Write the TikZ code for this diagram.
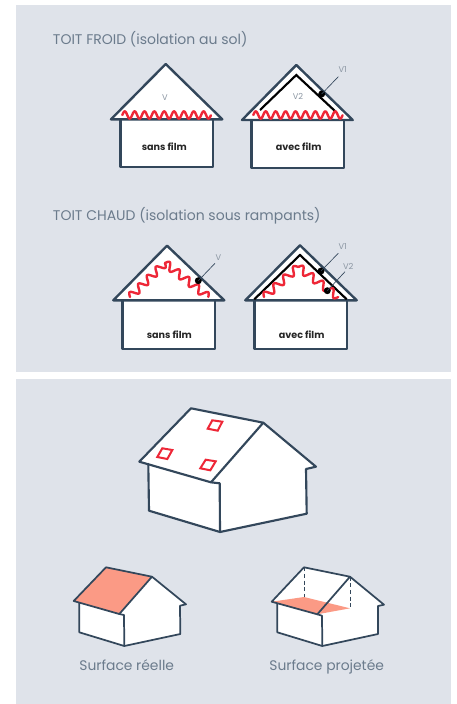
\documentclass[tikz,border=0pt]{standalone}
\usepackage{fontspec}
\setmainfont{Poppins}
\usetikzlibrary{calc}
\definecolor{panelgrey}{HTML}{DFE3EA}
\definecolor{slate}{HTML}{33475B}
\definecolor{wavered}{HTML}{EE2737}
\definecolor{roofpeach}{HTML}{FB9A85}
\definecolor{titlegrey}{HTML}{6B7B8C}
\definecolor{labelgrey}{HTML}{8C97A3}
% wave from (x0,y0) to (x1,y1): #5 periods
\newcommand{\redwave}[5]{%
    \draw[wave] plot[domain=0:1, samples=120, smooth]
        ({#1+(#3-#1)*\x + 3.7*(#4-#2)/veclen(#3-#1,#4-#2)*sin(#5*360*\x)},
         {#2+(#4-#2)*\x - 3.7*(#3-#1)/veclen(#3-#1,#4-#2)*sin(#5*360*\x)});}

\begin{document}
\begin{tikzpicture}[
    x=0.75pt, y=-0.75pt,
    panel/.style={fill=panelgrey, draw=none},
    wall/.style={draw=slate, fill=white, line width=1.8pt, line join=round, line cap=round},
    thinwall/.style={draw=slate, line width=1.3pt, line join=round, line cap=round},
    film/.style={draw=black, line width=1.6pt, line join=miter},
    wave/.style={draw=wavered, line width=1.8pt, line join=round, line cap=round},
    skylight/.style={draw=wavered, line width=1.5pt},
    leader/.style={draw=slate, line width=0.5pt},
    blackdot/.style={circle, fill=black, inner sep=0pt, minimum size=5.2pt},
    heading/.style={font=\fontsize{10.5}{12}\selectfont, text=titlegrey, anchor=base west, inner sep=0pt},
    caption/.style={font=\fontsize{10.4}{12}\selectfont, text=titlegrey, anchor=base, inner sep=0pt},
    vlabel/.style={font=\fontsize{6.2}{7}\selectfont, text=labelgrey, inner sep=0pt},
    filmlabel/.style={font=\fontsize{7.2}{8}\selectfont\bfseries, text=black!85, anchor=base, inner sep=0pt},
]
    \useasboundingbox (0,0) rectangle (457,704);

    %==================== PANELS ====================
    \fill[panel] (16,5) rectangle (451,372);
    \fill[panel] (16,379) rectangle (451,704);

    %==================== TOIT FROID ====================
    \node[heading] (froid) at (52.7,44.3) {TOIT FROID (isolation au sol)};

    % sans film
    \draw[wall] (120.3,119.3) -- (120.3,167) -- (212.7,167) -- (212.7,119.3);
    \draw[wall] (111,119.3) -- (165.7,64) -- (222.3,119.3) -- cycle;
    \redwave{122.3}{115}{211}{115}{9}
    \node[vlabel] (v1a) at (165,97.3) {V};
    \node[filmlabel] (sans1) at (164.3,150.3) {sans film};

    % avec film
    \draw[wall] (251.3,120) -- (251.3,168) -- (343.7,168) -- (343.7,120);
    \draw[wall] (242,120) -- (296.3,65) -- (352.7,120) -- cycle;
    \draw[film] (260,110) -- (296.3,75) -- (335.7,111.7);
    \redwave{253.3}{115}{342.7}{115}{9}
    \node[vlabel] (v2a) at (298,96.7) {V2};
    \node[vlabel] (v1b) at (342.7,69.7) {V1};
    \node[blackdot] (dot1) at (321.7,94) {};
    \draw[leader] (dot1.center) -- (338.3,76.7);
    \node[filmlabel] (avec1) at (298.7,150.3) {avec film};

    %==================== TOIT CHAUD ====================
    \node[heading] (chaud) at (52.7,220) {TOIT CHAUD (isolation sous rampants)};

    % sans film
    \draw[wall] (122.3,300.3) -- (122.3,348.7) -- (214.7,348.7) -- (214.7,300.3);
    \draw[wall] (113.3,300.3) -- (167,245.7) -- (224.3,300.3) -- cycle;
    \redwave{130}{297}{165}{263}{4}
    \redwave{165}{263}{208.3}{297}{4.5}
    \node[blackdot] (dot2) at (198.3,280.7) {};
    \draw[leader] (dot2.center) -- (215,263.3);
    \node[vlabel] (v1c) at (218.3,257.3) {V};
    \node[filmlabel] (sans2) at (169.3,338.3) {sans film};

    % avec film
    \draw[wall] (254.3,300.3) -- (254.3,348.7) -- (346.7,348.7) -- (346.7,300.3);
    \draw[wall] (245.3,300.3) -- (300,245.3) -- (356.7,300.3) -- cycle;
    \draw[film] (254.3,299.3) -- (300,255) -- (346.7,299.3);
    \redwave{264}{297}{298.3}{267}{3.5}
    \redwave{298.3}{267}{338.3}{297}{4}
    \node[blackdot] (dot3) at (321,271) {};
    \node[blackdot] (dot4) at (327.3,290.7) {};
    \draw[leader] (dot3.center) -- (338.3,253.3);
    \draw[leader] (dot4.center) -- (345,271.7);
    \node[vlabel] (v1d) at (342.7,246.7) {V1};
    \node[vlabel] (v2d) at (348.3,266) {V2};
    \node[filmlabel] (avec2) at (301.7,338.3) {avec film};

    %==================== LARGE HOUSE ====================
    \fill[white] (148.3,464) -- (149,510.7) -- (220,532) -- (306.7,513.7) -- (306,469)
        -- (316,466.7) -- (263.3,422.7) -- (191,408.3) -- (139.3,461.7) -- cycle;
    \draw[wall, fill=none, line width=1.6pt] (148.3,464) -- (149,510.7) -- (220,532) -- (306.7,513.7)
        -- (306,469) -- (316,466.7) -- (263.3,422.7);
    \draw[wall, fill=none, line width=1.6pt] (211,482.3) -- (219.7,483.3) -- (220,532);
    \draw[wall, fill=none, line width=1.6pt] (191,408.3) -- (263.3,422.7) -- (211,482.3) -- (139.3,461.7) -- cycle;
    \draw[skylight] (212.3,420.3) -- (222.3,421.7) -- (217.7,430.7) -- (207.7,428.7) -- cycle;
    \draw[skylight] (162.3,448.3) -- (172.3,450) -- (167.3,459) -- (157.3,457) -- cycle;
    \draw[skylight] (205.7,459.7) -- (215.7,461.3) -- (210.3,470.3) -- (200.3,468.3) -- cycle;

    %==================== SURFACE REELLE ====================
    \fill[white] (79.3,603.3) -- (79.3,632.3) -- (124.3,646) -- (180.3,634) -- (180,605.7)
        -- (186,604.3) -- (152,576.7) -- (119.3,614) -- cycle;
    \draw[thinwall] (79.3,603.3) -- (79.3,632.3) -- (124.3,646) -- (180.3,634) -- (180,605.7)
        -- (186,604.3) -- (152,576.7);
    \draw[thinwall] (119.3,614) -- (124,615) -- (124.3,646);
    \draw[thinwall, fill=roofpeach] (106,567.3) -- (152,576.7) -- (119.3,614) -- (73.7,601) -- cycle;
    \node[caption] (reelle) at (126.7,670.7) {Surface réelle};

    %==================== SURFACE PROJETEE ====================
    \fill[white] (277.3,603.3) -- (277.3,632.3) -- (322.3,646) -- (378,634) -- (378,606)
        -- (384,604.7) -- (350,576.7) -- (304,567.3) -- (271.7,601.7) -- cycle;
    \draw[thinwall] (277.3,603.3) -- (277.3,632.3) -- (322.3,646) -- (378,634) -- (378,606)
        -- (384,604.7) -- (350,576.7);
    \draw[thinwall] (317.3,614.3) -- (322,615.7) -- (322.3,646);
    \fill[roofpeach] (271.7,601.7) -- (304,597) -- (350,608.3) -- (317.3,614.3) -- cycle;
    \draw[slate, densely dashed, line width=0.7pt] (304,567.3) -- (304,597);
    \draw[slate, densely dashed, line width=0.7pt] (350,576.7) -- (350,608.3);
    \draw[thinwall] (304,567.3) -- (350,576.7) -- (317.3,614.3) -- (271.7,601.7) -- cycle;
    \node[caption] (projetee) at (326.7,670.7) {Surface projetée};
\end{tikzpicture}
\end{document}
